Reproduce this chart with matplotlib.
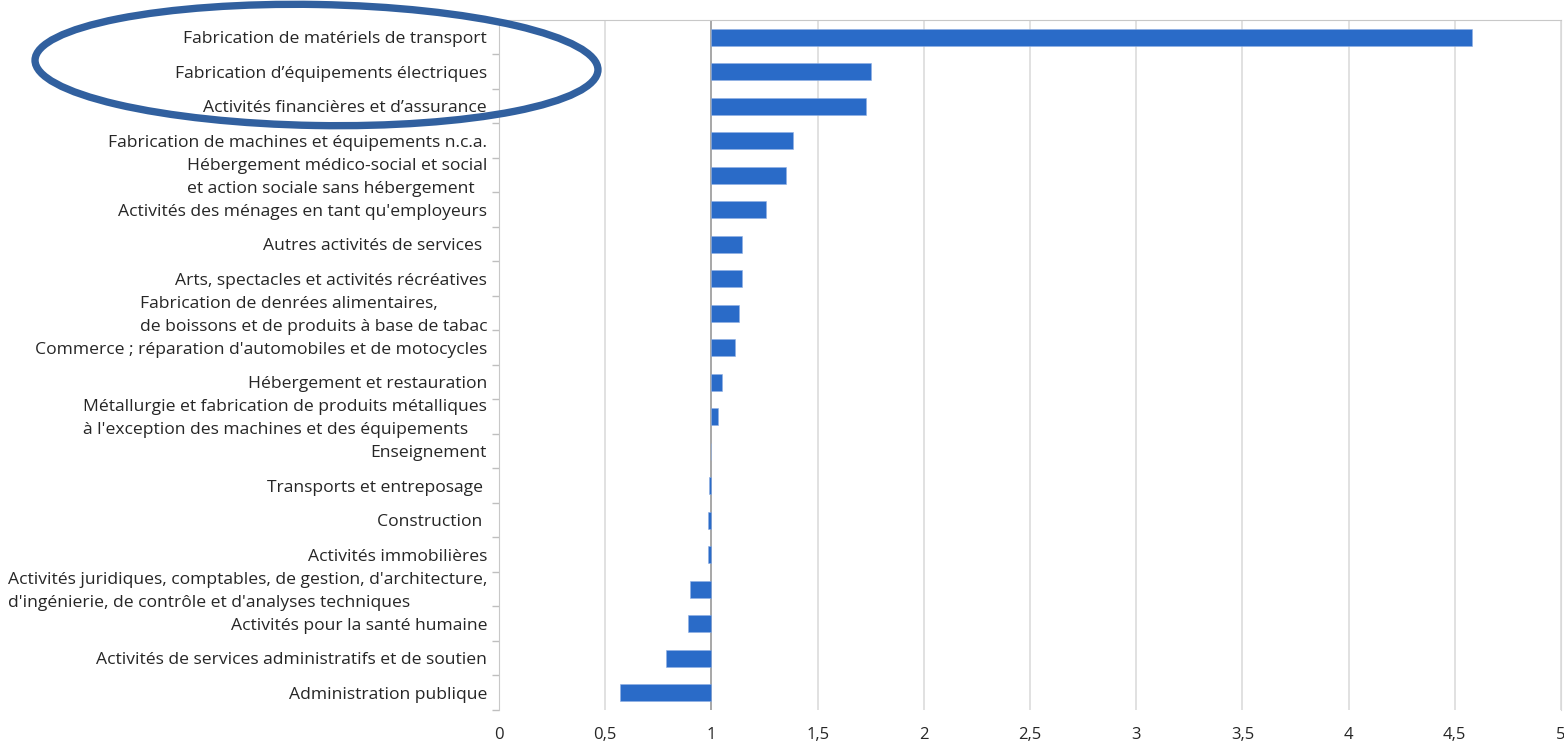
import matplotlib
matplotlib.use("Agg")
import matplotlib.pyplot as plt
from matplotlib.patches import Ellipse
from matplotlib.ticker import FixedLocator, FuncFormatter
from matplotlib.transforms import IdentityTransform, ScaledTranslation

# Sectors, top to bottom, and their ratio (bars start from 1)
secteurs = [
    "Fabrication de matériels de transport",
    "Fabrication d’équipements électriques",
    "Activités financières et d’assurance",
    "Fabrication de machines et équipements n.c.a.",
    "Hébergement médico-social et social\net action sociale sans hébergement",
    "Activités des ménages en tant qu'employeurs",
    "Autres activités de services ",
    "Arts, spectacles et activités récréatives",
    "Fabrication de denrées alimentaires,\nde boissons et de produits à base de tabac",
    "Commerce ; réparation d'automobiles et de motocycles",
    "Hébergement et restauration",
    "Métallurgie et fabrication de produits métalliques\nà l'exception des machines et des équipements",
    "Enseignement",
    "Transports et entreposage ",
    "Construction ",
    "Activités immobilières",
    "Activités juridiques, comptables, de gestion, d'architecture,\nd'ingénierie, de contrôle et d'analyses techniques",
    "Activités pour la santé humaine",
    "Activités de services administratifs et de soutien",
    "Administration publique",
]
ratios = [4.58, 1.75, 1.73, 1.385, 1.35, 1.255, 1.145, 1.145, 1.13, 1.11,
          1.05, 1.03, 1.0, 0.99, 0.984, 0.984, 0.898, 0.89, 0.786, 0.568]
xticks = [0, 0.5, 1, 1.5, 2, 2.5, 3, 3.5, 4, 4.5, 5]

W, H = 1564, 742
plt.rcParams['font.family'] = ['Open Sans', 'DejaVu Sans']
fig = plt.figure(figsize=(W / 100, H / 100), dpi=100)
ax = fig.add_axes([499 / W, 32 / H, (1561 - 499) / W, (710 - 20) / H])

pos = list(range(len(secteurs)))
ax.barh(pos, [r - 1 for r in ratios], left=1, height=0.5, color="#2a6bc8",
        edgecolor="#8fb0e3", linewidth=0.4, zorder=3)

ax.set_xlim(0, 5)
ax.set_ylim(len(secteurs) - 0.5, -0.5)

# gridlines
ax.set_xticks(xticks)
ax.xaxis.set_major_formatter(FuncFormatter(lambda v, p: f"{v:g}".replace(".", ",")))
ax.grid(axis="x", color="#d9d9d9", linewidth=1.1, zorder=0)
ax.axvline(1, color="#a8a8a8", linewidth=1.4, zorder=2)
ax.tick_params(axis="x", length=0, pad=12, labelsize=12, labelcolor="#262626")

ax.set_yticks(pos)
ax.set_yticklabels(secteurs, fontsize=12.6, color="#262626")
ax.yaxis.set_minor_locator(FixedLocator([p - 0.5 for p in pos] + [len(pos) - 0.5]))
ax.tick_params(axis="y", which="major", length=0, pad=8.6)
ax.tick_params(axis="y", which="minor", length=5, color="#bfbfbf", width=1)

# labels: block left-aligned, a bit lower than centre
shift = ScaledTranslation(0, -2 / 100, fig.dpi_scale_trans)
for lab in ax.get_yticklabels():
    lab.set_multialignment("left")
    lab.set_linespacing(1.6)
    lab.set_verticalalignment("center")
    lab.set_transform(lab.get_transform() + shift)

ax.spines["bottom"].set_visible(False)
ax.spines["left"].set_color("#c8c8c8")
ax.spines["top"].set_color("#c8c8c8")
ax.spines["right"].set_color("#d9d9d9")

# highlight circle around the first three sectors
fig.add_artist(Ellipse((316.5, H - 65), 563, 121, angle=-1, fill=False,
                       edgecolor="#31609f", linewidth=5.3, transform=IdentityTransform()))

fig.savefig("out.png", dpi=100)
